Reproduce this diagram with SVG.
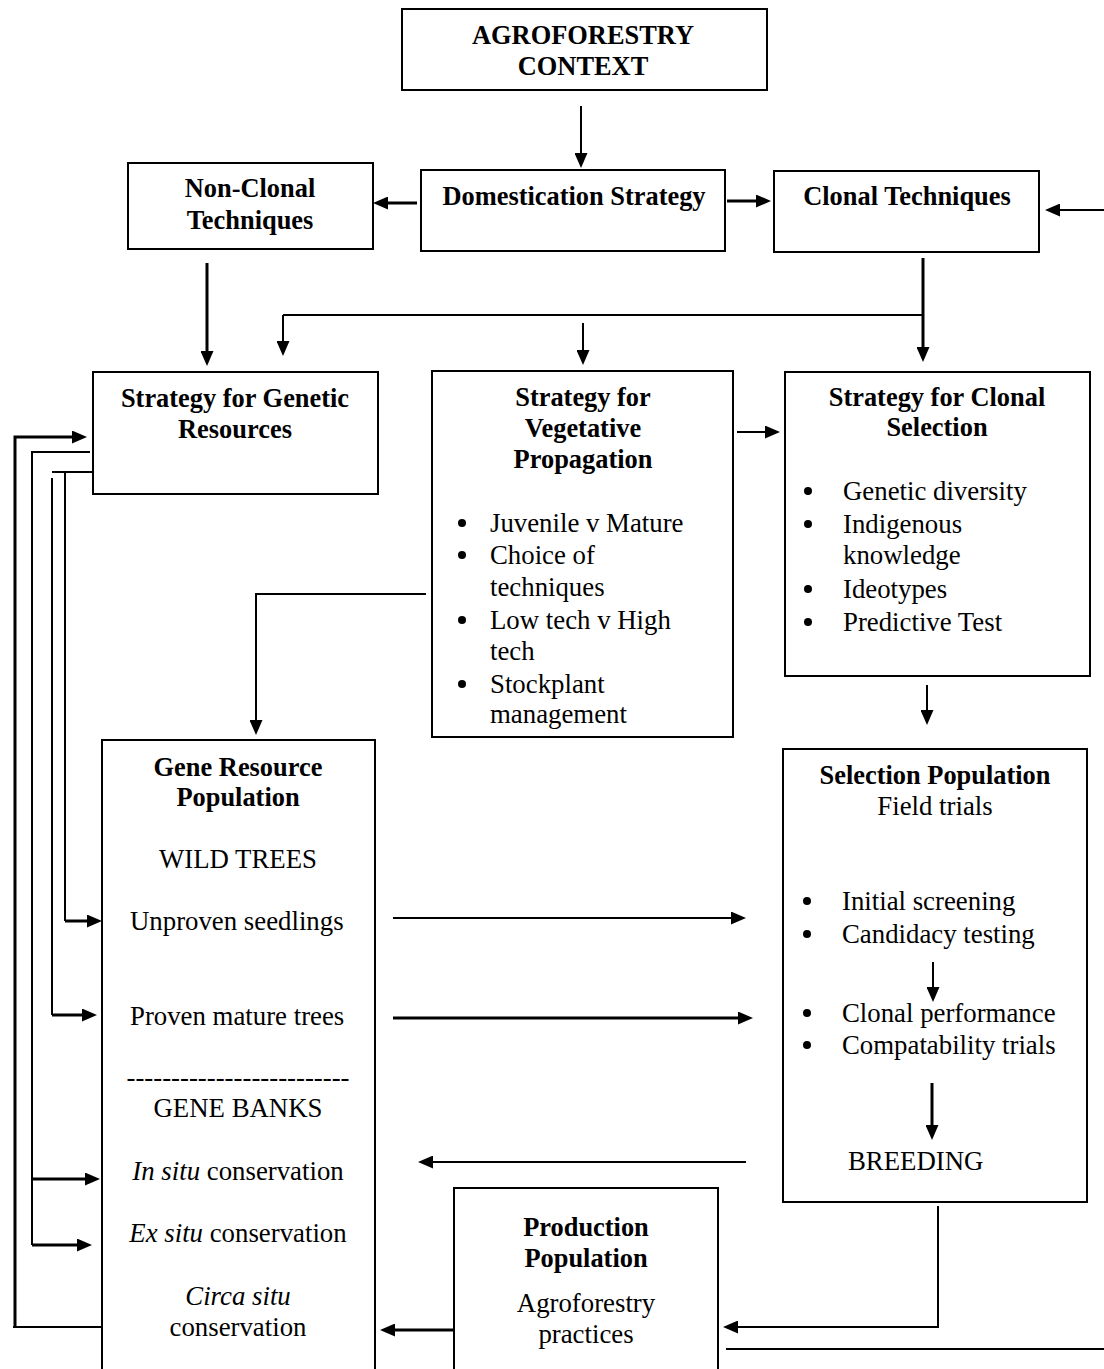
<svg xmlns="http://www.w3.org/2000/svg" width="1104" height="1369" viewBox="0 0 1104 1369">
<style>
text{font-family:"Liberation Serif","Times New Roman",serif;font-size:26.8px;fill:#000}
.b{font-weight:bold;font-size:26.4px}
.m{text-anchor:middle}
.i{font-style:italic}
.box{fill:#fff;stroke:#000;stroke-width:2}
.c{fill:none;stroke:#000;stroke-width:2}
.t{fill:none;stroke:#000;stroke-width:3}
.d{fill:#000}
</style>
<defs>
<marker id="ah" markerUnits="userSpaceOnUse" markerWidth="15" markerHeight="13" refX="8" refY="6.5" orient="auto">
<path d="M0,0 L15,6.5 L0,13 z" fill="#000"/>
</marker>
</defs>
<rect width="1104" height="1369" fill="#fff"/>

<g id="agro"><rect class="box" x="402" y="9" width="365" height="81"/>
<text class="b m" x="583" y="44">AGROFORESTRY</text><text class="b m" x="583" y="75">CONTEXT</text></g>

<g id="dom"><rect class="box" x="421" y="170" width="304" height="81"/>
<text class="b m" x="574" y="205">Domestication Strategy</text></g>

<g id="nonclonal"><rect class="box" x="128" y="163" width="245" height="86"/>
<text class="b m" x="250" y="197">Non-Clonal</text><text class="b m" x="250" y="229">Techniques</text></g>

<g id="clonal"><rect class="box" x="774" y="171" width="265" height="81"/>
<text class="b m" x="907" y="205">Clonal Techniques</text></g>

<g id="genetic"><rect class="box" x="93" y="372" width="285" height="122"/>
<text class="b m" x="235" y="407">Strategy for Genetic</text><text class="b m" x="235" y="438">Resources</text></g>

<g id="vegetative"><rect class="box" x="432" y="371" width="301" height="366"/>
<text class="b m" x="583" y="406">Strategy for</text><text class="b m" x="583" y="437">Vegetative</text><text class="b m" x="583" y="468">Propagation</text>
<circle class="d" cx="462" cy="523" r="4"/><text x="490" y="532">Juvenile v Mature</text>
<circle class="d" cx="462" cy="555" r="4"/><text x="490" y="564">Choice of</text><text x="490" y="596">techniques</text>
<circle class="d" cx="462" cy="620" r="4"/><text x="490" y="629">Low tech v High</text><text x="490" y="660">tech</text>
<circle class="d" cx="462" cy="684" r="4"/><text x="490" y="693">Stockplant</text><text x="490" y="723">management</text></g>

<g id="clonalsel"><rect class="box" x="785" y="372" width="305" height="304"/>
<text class="b m" x="937" y="406">Strategy for Clonal</text><text class="b m" x="937" y="436">Selection</text>
<circle class="d" cx="808" cy="491" r="4"/><text x="843" y="500">Genetic diversity</text>
<circle class="d" cx="808" cy="524" r="4"/><text x="843" y="533">Indigenous</text><text x="843" y="564">knowledge</text>
<circle class="d" cx="808" cy="589" r="4"/><text x="843" y="598">Ideotypes</text>
<circle class="d" cx="808" cy="622" r="4"/><text x="843" y="631">Predictive Test</text></g>

<g id="generes"><rect class="box" x="102" y="740" width="273" height="640"/>
<text class="b m" x="238" y="776">Gene Resource</text><text class="b m" x="238" y="806">Population</text>
<text class="m" x="238" y="868">WILD TREES</text>
<text x="130" y="930">Unproven seedlings</text>
<text x="130" y="1025">Proven mature trees</text>
<text class="m" x="238" y="1086">-------------------------</text>
<text class="m" x="238" y="1117">GENE BANKS</text>
<text class="m" x="238" y="1180"><tspan class="i">In situ</tspan> conservation</text>
<text class="m" x="238" y="1242"><tspan class="i">Ex situ</tspan> conservation</text>
<text class="m i" x="238" y="1305">Circa situ</text><text class="m" x="238" y="1336">conservation</text></g>

<g id="selpop"><rect class="box" x="783" y="749" width="304" height="453"/>
<text class="b m" x="935" y="784">Selection Population</text><text class="m" x="935" y="815">Field trials</text>
<circle class="d" cx="807" cy="901" r="4"/><text x="842" y="910">Initial screening</text>
<circle class="d" cx="807" cy="934" r="4"/><text x="842" y="943">Candidacy testing</text>
<circle class="d" cx="807" cy="1013" r="4"/><text x="842" y="1022">Clonal performance</text>
<circle class="d" cx="807" cy="1045" r="4"/><text x="842" y="1054">Compatability trials</text>
<text x="848" y="1170">BREEDING</text></g>

<g id="production"><rect class="box" x="454" y="1188" width="264" height="200"/>
<text class="b m" x="586" y="1236">Production</text><text class="b m" x="586" y="1267">Population</text>
<text class="m" x="586" y="1312">Agroforestry</text><text class="m" x="586" y="1343">practices</text></g>

<g id="connectors">
<path class="c" d="M581,106 V161" marker-end="url(#ah)"/>
<path class="t" d="M417,203 H380" marker-end="url(#ah)"/>
<path class="t" d="M727,201 H764" marker-end="url(#ah)"/>
<path class="c" d="M1104,210 H1052" marker-end="url(#ah)"/>
<path class="t" d="M207,263 V359" marker-end="url(#ah)"/>
<path class="t" d="M923,258 V355" marker-end="url(#ah)"/>
<path class="c" d="M283,315 H923"/>
<path class="c" d="M283,315 V349" marker-end="url(#ah)"/>
<path class="c" d="M583,323 V358" marker-end="url(#ah)"/>
<path class="c" d="M737,432 H773" marker-end="url(#ah)"/>
<path class="c" d="M426,594 H256 V728" marker-end="url(#ah)"/>
<path class="c" d="M927,685 V718" marker-end="url(#ah)"/>
<path class="c" d="M393,918 H739" marker-end="url(#ah)"/>
<path class="t" d="M393,1018 H746" marker-end="url(#ah)"/>
<path class="c" d="M933,962 V995" marker-end="url(#ah)"/>
<path class="t" d="M932,1083 V1133" marker-end="url(#ah)"/>
<path class="c" d="M746,1162 H425" marker-end="url(#ah)"/>
<path class="c" d="M938,1206 V1327 H730" marker-end="url(#ah)"/>
<path class="c" d="M726,1349 H1104"/>
<path class="t" d="M454,1330 H387" marker-end="url(#ah)"/>
<path class="t" d="M15,1327 V437 H80" marker-end="url(#ah)"/>
<path class="c" d="M13,1327 H101"/>
<path class="c" d="M90,452 H32 V1245"/>
<path class="t" d="M32,1179 H93" marker-end="url(#ah)"/>
<path class="t" d="M32,1245 H85" marker-end="url(#ah)"/>
<path class="c" d="M93,472 H52"/>
<path class="c" d="M65,472 V921"/>
<path class="t" d="M65,921 H95" marker-end="url(#ah)"/>
<path class="c" d="M52,478 V1015"/>
<path class="t" d="M52,1015 H90" marker-end="url(#ah)"/>
</g>
</svg>
